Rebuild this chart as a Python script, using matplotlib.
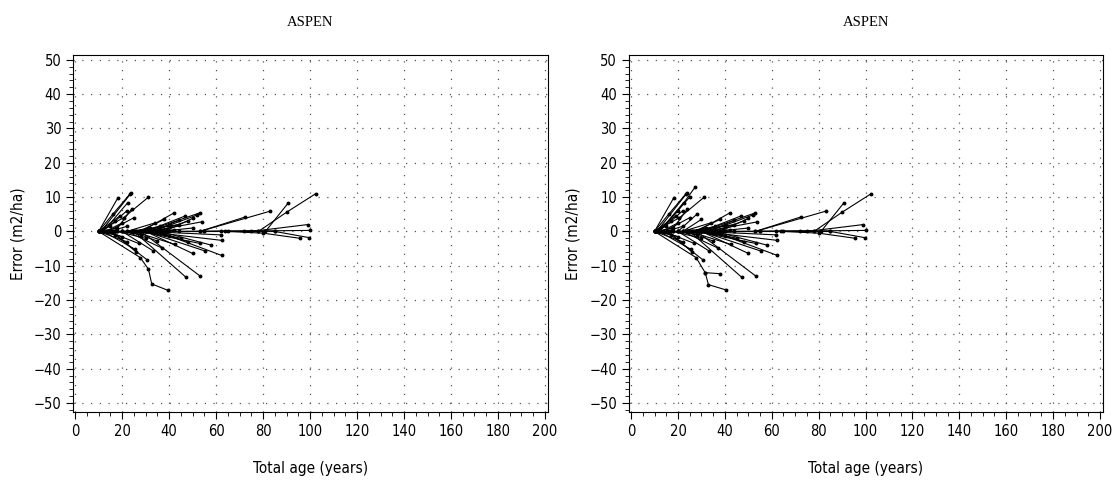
import matplotlib.pyplot as plt
from matplotlib.ticker import MultipleLocator

# each trajectory: (total ages, errors), error is 0 at the first measurement
shared_lines = [
    ([10, 18.2], [0, 9.8]),
    ([10, 16, 23.8], [0, 5, 11.3]),
    ([11, 23.4], [0, 10.8]),
    ([12, 22.4], [0, 8.4]),
    ([10, 20.6, 31.2], [0, 4, 10]),
    ([11, 17, 22], [0, 3, 6]),
    ([10, 19], [0, 4.5]),
    ([13, 20], [0, 2.5]),
    ([14, 25], [0, 4]),
    ([17, 24], [0, 6.5]),
    ([10, 15], [0, 1.5]),
    ([11, 18], [0, 1]),
    ([15, 22], [0, 1.5]),
    ([28, 42.1], [0, 5.4]),
    ([30, 46.8], [0, 4.5]),
    ([32, 53.9], [0, 2.8]),
    ([30, 53], [0, 5.4]),
    ([33, 52], [0, 4.8]),
    ([27, 38], [0, 3.5]),
    ([25, 44], [0, 2]),
    ([35, 48], [0, 3]),
    ([22, 34], [0, 2.5]),
    ([36, 50], [0, 1]),
    ([26, 36], [0, 1.5]),
    ([24, 32], [0, 1]),
    ([31, 40], [0, 1.8]),
    ([33, 44], [0, 3.2]),
    ([38, 50], [0, 3.8]),
    ([29, 39], [0, 0.8]),
    ([53, 72.3], [0, 4.2]),
    ([53, 83], [0, 5.9]),
    ([78, 90, 102.4], [0, 5.6, 11]),
    ([81, 90.6], [0, 8.2]),
    ([75, 99], [0, 2]),
    ([72, 85, 99.6], [0, 0, -1.8]),
    ([65, 80, 95.7], [0, -0.5, -2]),
    ([20, 55], [0, 0]),
    ([40, 78], [0, 0.2]),
    ([55, 100], [0, 0.3]),
    ([44, 64], [0, 0]),
    ([62, 85], [0, 0]),
    ([30, 62], [0, -1]),
    ([14, 35], [0, -0.5]),
    ([18, 42], [0, 0.4]),
    ([30, 62.4], [0, -2.6]),
    ([35, 62.4], [0, -7]),
    ([30, 55.3], [0, -5.7]),
    ([28, 53.2], [0, -13]),
    ([25, 47.1], [0, -13.3]),
    ([30, 50], [0, -6.4]),
    ([15, 30.5], [0, -8.2]),
    ([12, 25.5], [0, -5.2]),
    ([20, 33.3], [0, -5.7]),
    ([22, 36.9], [0, -4.8]),
    ([25, 42.6], [0, -3.8]),
    ([28, 53.2], [0, -3.5]),
    ([10, 22], [0, -3]),
    ([12, 20], [0, -1.5]),
    ([18, 30], [0, -2]),
    ([32, 45], [0, -2]),
    ([26, 40], [0, -1.2]),
    ([14, 27], [0, -3.5]),
    ([16, 26], [0, -6]),
    ([36, 58], [0, -4]),
    ([10, 17], [0, -1]),
    ([20, 28], [0, -1]),
    ([24, 35], [0, -2.8]),
    ([34, 48], [0, -3]),
    ([28, 38], [0, -0.6]),
]

left_only = [
    ([10, 27.7, 31.2, 32.6, 39.7], [0, -7.6, -11, -15.3, -17.2]),
]

right_only = [
    ([12, 20, 27.4], [0, 6, 13]),
    ([12, 25], [0, 10]),
    ([20, 28], [0, 5]),
    ([22, 30], [0, 3.5]),
    ([10, 27.7, 31.6, 37.8], [0, -7.6, -12, -12.3]),
    ([31.6, 33, 40.3], [-12, -15.5, -17]),
]

panel_title = "ASPEN"
x_label = "Total age (years)"
y_label = "Error (m2/ha)"

plt.rcParams['font.family'] = ['DejaVu Sans']
plt.rcParams['font.stretch'] = 'condensed'

fig = plt.figure(figsize=(11.17, 4.82), dpi=100)
ax1 = fig.add_axes([0.0654, 0.1452, 0.4252, 0.7407])
ax2 = fig.add_axes([0.5631, 0.1452, 0.4244, 0.7407])

for ax, lines in [(ax1, shared_lines + left_only), (ax2, shared_lines + right_only)]:
    for ages, errs in lines:
        ax.plot(ages, errs, color='black', lw=0.8, marker='o', ms=1.8)
    ax.set_xlim(-0.9, 201.3)
    ax.set_ylim(-52.6, 51.4)
    ax.xaxis.set_major_locator(MultipleLocator(20))
    ax.xaxis.set_minor_locator(MultipleLocator(5))
    ax.yaxis.set_major_locator(MultipleLocator(10))
    ax.yaxis.set_minor_locator(MultipleLocator(2))
    ax.tick_params(which='major', direction='out', length=5, width=0.8, labelsize=10.5)
    ax.tick_params(which='minor', direction='out', length=3, width=0.6)
    ax.grid(True, which='major', color='#555555', linestyle=(0, (1, 6)), lw=0.9)
    for s in ax.spines.values():
        s.set_linewidth(0.8)
    ax.set_xlabel(x_label, fontsize=11, labelpad=16)
    ax.set_ylabel(y_label, fontsize=11, labelpad=6)
    ax.set_title(panel_title, family=['Liberation Serif', 'DejaVu Serif'], fontsize=10.5, pad=21)

fig.savefig('out.png', dpi=100)
